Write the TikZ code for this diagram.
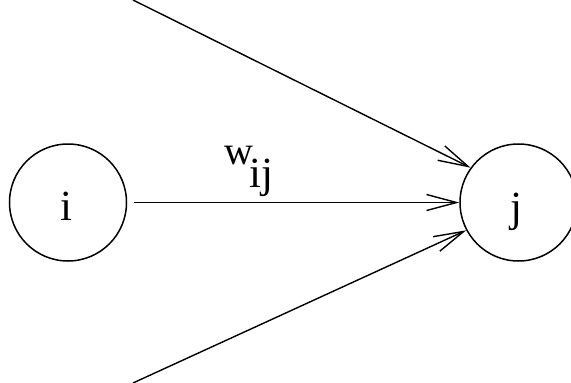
\documentclass[tikz,border=0pt]{standalone}
\usepackage{fontspec}
\setmainfont{Liberation Serif}
\usetikzlibrary{arrows.meta}
\begin{document}
\begin{tikzpicture}[x=1pt,y=-1pt,
  neuron/.style={circle,draw,line width=1.5pt,minimum size=117pt,inner sep=0pt},
  conn/.style={line width=1.4pt,-{Straight Barb[length=30pt,width=16pt,line width=1.4pt]}},
  bigtxt/.style={inner sep=0pt,font=\fontsize{43}{48}\selectfont},
  smalltxt/.style={inner sep=0pt,font=\fontsize{40}{46}\selectfont}]
\clip (0,0) rectangle (571,383);
\node[neuron] (i) at (68,202.5) {};
\node[neuron] (j) at (518.5,202.5) {};
\node[bigtxt,anchor=base] (ilab) at (66,220) {i};
\node[bigtxt,anchor=base] (jlab) at (516,221) {j};
\coordinate (top) at (133,0);
\coordinate (bot) at (133,383);
\draw[conn,shorten <=7pt] (i.east) -- (j.west);
\draw[conn] (top) -- (j.144);
\draw[conn] (bot) -- (j.208);
\node[smalltxt,anchor=base west] (w) at (224,164) {w};
\node[bigtxt,anchor=base west] (ij) at (249,187) {ij};
\end{tikzpicture}
\end{document}
